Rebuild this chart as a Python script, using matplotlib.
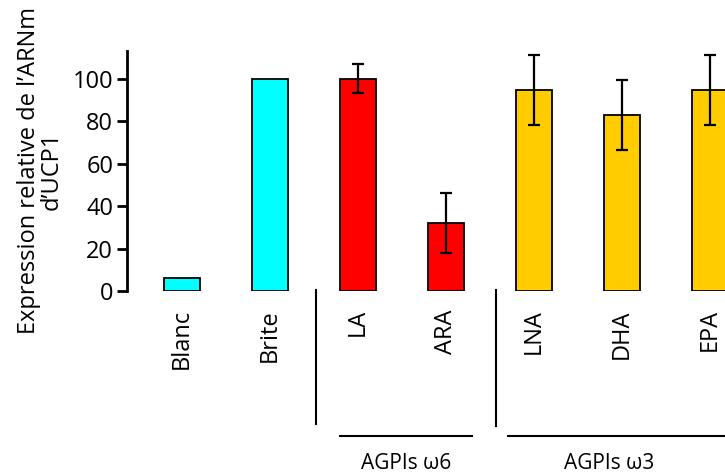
import matplotlib
matplotlib.use("Agg")
import matplotlib.pyplot as plt

# === Data ===
labels = ["Blanc", "Brite", "LA", "ARA", "LNA", "DHA", "EPA"]
values = [6, 100, 100, 32, 94.5, 83, 94.5]
colors = ["#00FFFF", "#00FFFF", "#FF0000", "#FF0000", "#FFCC00", "#FFCC00", "#FFCC00"]

# error bars only on the fatty acids
err_idx = [2, 3, 4, 5, 6]
err_vals = [7, 14, 16.5, 16.5, 16.5]

groups = ["AGPIs ω6", "AGPIs ω3"]

plt.rcParams["font.family"] = ["Open Sans", "DejaVu Sans"]

fig = plt.figure(figsize=(7.25, 4.74), dpi=100)
ax = fig.add_axes([0.1752, 0.3861, 0.8248, 0.5063])

x = list(range(len(labels)))
ax.bar(x, values, width=0.41, color=colors, edgecolor="black", linewidth=1.3, zorder=2)
ax.errorbar([x[i] for i in err_idx], [values[i] for i in err_idx], yerr=err_vals,
            fmt="none", ecolor="black", elinewidth=1.6, capsize=4.3, capthick=1.6, zorder=3)

ax.set_xlim(-0.625, 6.17)
ax.set_ylim(0, 113)
ax.set_yticks([0, 20, 40, 60, 80, 100])
ax.set_xticks(x, labels, rotation=90)

# === Axes styling ===
for s in ["top", "right", "bottom"]:
    ax.spines[s].set_visible(False)
ax.spines["left"].set_linewidth(2)
ax.spines["left"].set_bounds(0, 113)
ax.tick_params(axis="y", direction="out", length=7, width=2, labelsize=17, pad=3)
ax.tick_params(axis="x", length=0, labelsize=17, pad=13)

ax.set_ylabel("Expression relative de l’ARNm\nd’UCP1", fontsize=17, linespacing=0.95)
ax.yaxis.set_label_coords(-0.106, 0.5)

# === Group separators and labels (below the axis) ===
sep_kw = dict(color="black", linewidth=1.5, clip_on=False)
ax.plot([1.52, 1.52], [0.5, -62.5], **sep_kw)
ax.plot([3.57, 3.57], [0.5, -63.5], **sep_kw)
ax.plot([1.80, 3.30], [-68.5, -68.5], **sep_kw)
ax.plot([3.70, 6.40], [-68.5, -68.5], **sep_kw)
ax.text(2.55, -81, groups[0], ha="center", va="center", fontsize=15, clip_on=False)
ax.text(4.85, -81, groups[1], ha="center", va="center", fontsize=15, clip_on=False)

fig.savefig("out.png", dpi=100)
